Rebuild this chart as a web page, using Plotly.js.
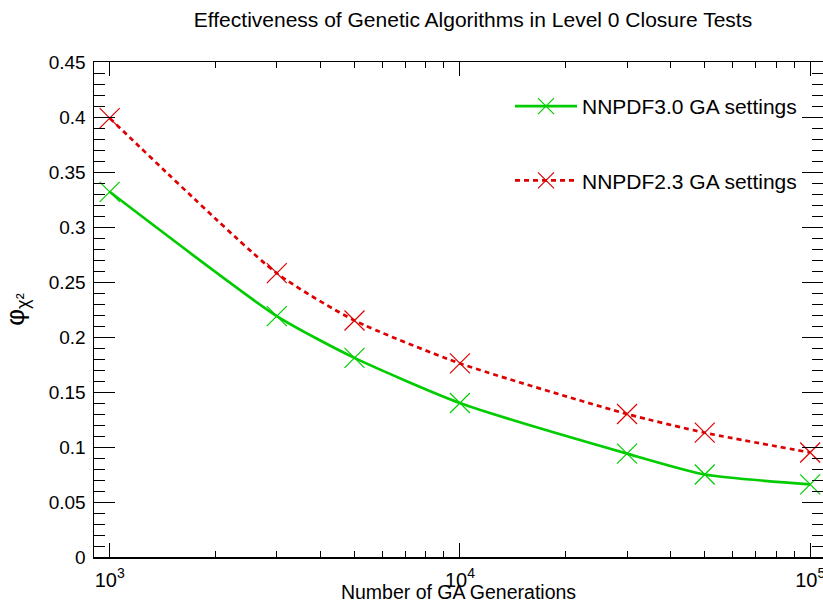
<!DOCTYPE html>
<html><head><meta charset="utf-8">
<script src="https://cdn.plot.ly/plotly-3.0.1.min.js"></script>
<style>body{margin:0;overflow:hidden;background:#fff}</style>
</head><body>
<div id="chart" style="width:823px;height:603px"></div>
<script>
var generations = [1000, 3000, 5000, 10000, 30000, 50000, 100000];
var nnpdf30 = [0.332, 0.219, 0.181, 0.140, 0.094, 0.075, 0.066];
var nnpdf23 = [0.399, 0.258, 0.215, 0.176, 0.130, 0.113, 0.095];
var seriesNames = ['NNPDF3.0 GA settings', 'NNPDF2.3 GA settings'];
var xTickVals = [1000, 10000, 100000];
var xTickText = ['10<sup>3</sup>', '10<sup>4</sup>', '10<sup>5</sup>'];
var xMinorVals = [2000,3000,4000,5000,6000,7000,8000,9000,20000,30000,40000,50000,60000,70000,80000,90000];
var yTickVals = [0, 0.05, 0.1, 0.15, 0.2, 0.25, 0.3, 0.35, 0.4, 0.45];
var yTickText = ['0', '0.05', '0.1', '0.15', '0.2', '0.25', '0.3', '0.35', '0.4', '0.45'];

var font = 'Liberation Sans, Arial, Helvetica, sans-serif';
var traces = [
  {x: generations, y: nnpdf30, name: seriesNames[0], type: 'scatter', mode: 'lines+markers',
   legendgroup: 'a',
   line: {color: '#00cc00', width: 2.7, shape: 'spline', smoothing: 0.6},
   marker: {symbol: 'x-thin-open', size: 20, line: {color: '#00cc00', width: 1.2}}},
  {x: generations, y: nnpdf23, name: seriesNames[1], type: 'scatter', mode: 'lines+markers',
   legendgroup: 'b',
   line: {color: '#dd0000', width: 2.7, dash: '5px,4px', shape: 'spline', smoothing: 0.6},
   marker: {symbol: 'x-thin-open', size: 20, line: {color: '#dd0000', width: 1.2}}}
];
var layout = {
  width: 823, height: 603,
  margin: {l: 94, r: 0, t: 62, b: 46},
  paper_bgcolor: '#fff', plot_bgcolor: '#fff',
  font: {family: font, size: 20, color: '#000'},
  title: {text: 'Effectiveness of Genetic Algorithms in Level 0 Closure Tests',
          x: 473/823, xanchor: 'center', y: 1 - 20/603, yanchor: 'middle',
          font: {family: font, size: 21, color: '#000'}},
  showlegend: true,
  legend: {x: (510-94)/729, y: 1 - (86-62)/495, xanchor: 'left', yanchor: 'top',
           traceorder: 'grouped', tracegroupgap: 44, itemwidth: 62,
           bgcolor: 'rgba(0,0,0,0)', font: {family: font, size: 21, color: '#000'}},
  xaxis: {type: 'log', range: [Math.log10(902), Math.log10(108800)],
          showgrid: false, zeroline: false, showline: true, linecolor: '#000', linewidth: 1.5,
          mirror: 'allticks', ticks: 'inside', ticklen: 14, tickwidth: 1, tickcolor: '#000',
          tickmode: 'array', tickvals: xTickVals, ticktext: xTickText, ticklabeloverflow: 'allow',
          tickfont: {family: font, size: 20, color: '#000'}, ticklabelstandoff: 4,
          minor: {tickmode: 'array', tickvals: xMinorVals, ticks: 'inside', ticklen: 6, tickwidth: 1, tickcolor: '#000', showgrid: false},
          title: {text: 'Number of GA Generations', standoff: 0, font: {family: font, size: 19.5, color: '#000'}}},
  yaxis: {range: [0, 0.45],
          showgrid: false, zeroline: false, showline: true, linecolor: '#000', linewidth: 1.5,
          mirror: 'allticks', ticks: 'inside', ticklen: 21, tickwidth: 1, tickcolor: '#000',
          tickmode: 'array', tickvals: yTickVals, ticktext: yTickText,
          tickfont: {family: font, size: 19, color: '#000'}, ticklabelstandoff: 3,
          minor: {dtick: 0.01, ticks: 'inside', ticklen: 11, tickwidth: 1, tickcolor: '#000', showgrid: false},
          title: {text: 'φ<sub>χ²</sub>', standoff: 20, font: {family: font, size: 26, color: '#000'}}}
};
Plotly.newPlot('chart', traces, layout, {displayModeBar: false, staticPlot: true});
</script>
</body></html>
